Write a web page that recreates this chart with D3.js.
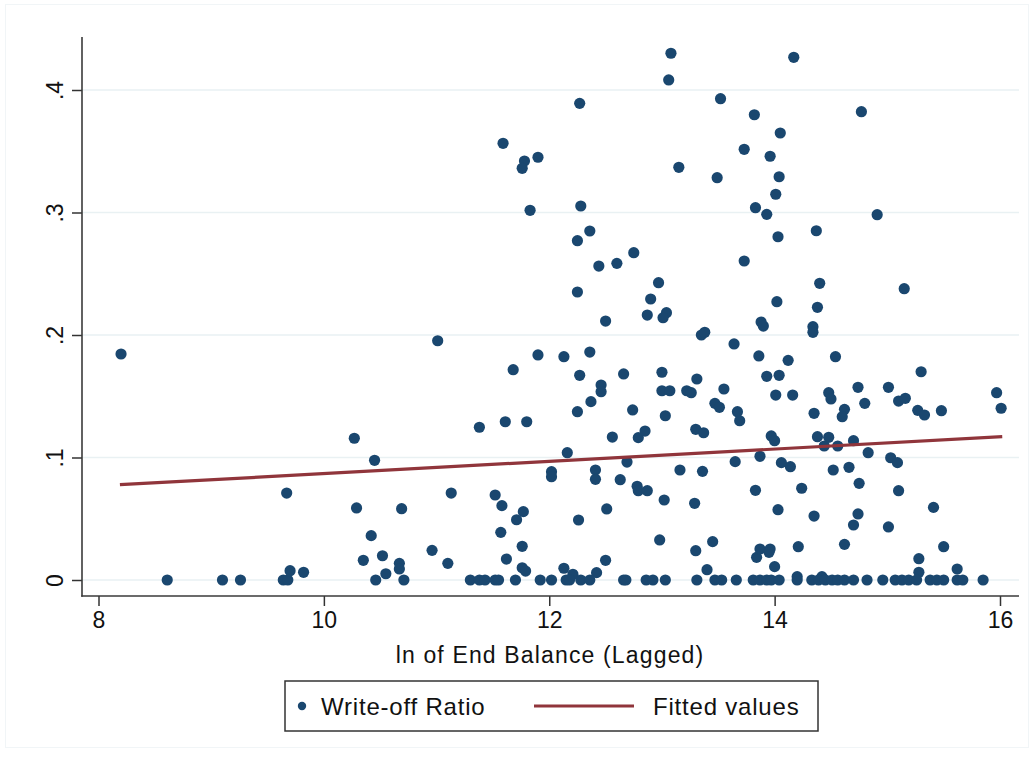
<!DOCTYPE html>
<html>
<head>
<meta charset="utf-8">
<script src="https://cdn.jsdelivr.net/npm/d3@7"></script>
<style>
  body { margin: 0; background: #fff; }
  #chart { width: 1034px; height: 758px; }
  text { font-family: "Liberation Sans", Arial, Helvetica, sans-serif; fill: #111; }
</style>
</head>
<body>
<div id="chart"></div>
<script>
// ln of end balance (lagged) for each observation
const lnBalance = [
  8.20, 9.67, 8.61, 9.10, 9.26, 9.64, 9.68, 9.70, 9.82,
  11.01, 11.90, 11.68, 11.38, 11.61, 11.80, 10.27, 10.45, 12.02, 12.02,
  11.13, 10.29, 10.69, 11.52, 11.58, 11.77, 11.71, 10.42, 11.57, 11.76,
  10.96, 10.35, 10.52, 10.67, 10.67, 11.10, 11.62, 11.76, 11.79, 10.55,
  10.46, 10.71, 11.30, 11.38, 11.43, 11.52, 11.55, 11.70, 11.92, 12.02,
  11.59, 11.78, 11.76, 11.90, 11.83,
  13.08, 13.06, 12.27, 13.52, 13.82, 14.05, 13.73, 13.96, 13.15, 13.49,
  14.04, 14.01, 12.28, 13.83, 13.93, 12.36, 12.25, 14.03, 12.75, 12.44,
  12.60, 13.73, 12.97, 12.25, 12.90, 14.02, 12.87, 13.04, 13.01, 12.50,
  13.88, 13.90,
  14.17, 14.77, 14.91, 14.37, 14.40, 15.15, 14.38,
  13.35, 13.38, 13.64, 12.13, 12.36, 13.86, 14.12, 12.27, 12.66, 13.00,
  13.93, 14.04, 12.46, 12.46, 13.00, 13.07, 13.22, 13.26, 13.31, 13.55,
  14.01, 12.37, 12.25, 12.74, 13.03, 13.47, 13.51, 13.67, 13.69, 12.56,
  12.79, 12.85, 13.30, 13.37, 13.97, 14.00, 12.16, 12.69, 13.65, 13.87,
  14.06, 12.41, 12.41, 13.16, 13.36, 12.63, 12.78, 12.79, 12.87, 13.02,
  13.29, 13.83, 12.51, 14.03, 12.26, 12.98, 13.45, 13.30, 13.84, 13.87,
  13.96, 13.95, 14.00, 12.50, 12.13, 12.21, 12.42, 13.40,
  12.15, 12.18, 12.28, 12.36, 12.66, 12.68, 12.86, 12.92, 13.03, 13.31,
  13.47, 13.53, 13.66, 13.81, 13.87, 13.93, 13.97, 14.04,
  14.34, 14.34, 14.54, 15.30, 14.16, 14.48, 14.50, 14.74, 15.01, 15.10,
  15.16, 14.80, 15.27, 15.33, 15.48, 15.97, 16.01, 14.35, 14.62, 14.60,
  14.38, 14.48, 14.44, 14.56, 14.70, 14.83, 15.03, 15.09, 14.14, 14.52,
  14.66, 14.75, 15.10, 14.24, 14.35, 14.74, 14.70, 15.01, 15.41, 14.21,
  14.62, 15.50, 15.28, 15.28, 15.62, 14.20, 14.20, 14.42,
  14.33, 14.39, 14.45, 14.51, 14.56, 14.62, 14.70, 14.82, 14.96, 15.07,
  15.13, 15.19, 15.26, 15.38, 15.44, 15.50, 15.62, 15.67, 15.85
];

// write-off ratio, same order as lnBalance
const writeOff = [
  .1845, .071, 0, 0, 0, 0, 0, .0076, .0063,
  .1953, .1837, .1717, .1247, .1292, .1292, .1157, .0977, .0884, .0843,
  .0710, .0588, .0582, .0694, .0607, .0558, .0492, .0362, .0389, .0275,
  .0242, .0161, .0198, .0136, .0090, .0136, .0171, .0100, .0073, .0051,
  0, 0, 0, 0, 0, 0, 0, 0, 0, 0,
  .3565, .3420, .3361, .3451, .3018,
  .4300, .4082, .3891, .3929, .3798, .3649, .3516, .3459, .3369, .3284,
  .3292, .3149, .3053, .3039, .2985, .2849, .2770, .2802, .2672, .2563,
  .2585, .2604, .2427, .2351, .2294, .2272, .2163, .2182, .2141, .2114,
  .2106, .2073,
  .4267, .3823, .2982, .2851, .2422, .2378, .2226,
  .2000, .2022, .1927, .1823, .1861, .1829, .1793, .1671, .1682, .1696,
  .1663, .1671, .1592, .1537, .1545, .1545, .1545, .1529, .1641, .1559,
  .1510, .1456, .1374, .1388, .1341, .1442, .1410, .1374, .1300, .1167,
  .1162, .1216, .1230, .1202, .1176, .1137, .1039, .0963, .0966, .1010,
  .0958, .0898, .0822, .0898, .0887, .0819, .0765, .0729, .0729, .0653,
  .0626, .0732, .0580, .0574, .0490, .0327, .0313, .0239, .0185, .0253,
  .0253, .0226, .0109, .0161, .0096, .0047, .0060, .0084,
  0, 0, 0, 0, 0, 0, 0, 0, 0, 0,
  0, 0, 0, 0, 0, 0, 0, 0,
  .2068, .2022, .1823, .1700, .1510, .1529, .1478, .1573, .1573, .1461,
  .1483, .1442, .1385, .1347, .1382, .1529, .1402, .1361, .1393, .1333,
  .1170, .1165, .1094, .1094, .1137, .1039, .0998, .0958, .0925, .0898,
  .0920, .0789, .0729, .0749, .0522, .0539, .0449, .0433, .0593, .0272,
  .0291, .0272, .0174, .0063, .0090, .0027, 0, .0027,
  0, 0, 0, 0, 0, 0, 0, 0, 0, 0,
  0, 0, 0, 0, 0, 0, 0, 0, 0
];

// fitted values line (linear fit), its two ends
const fitX = [8.19, 16.02];
const fitY = [0.0778, 0.117];

const xTicks = [8, 10, 12, 14, 16];
const yTicks = [0, 0.1, 0.2, 0.3, 0.4];
const yTickLabels = ['0', '.1', '.2', '.3', '.4'];

const width = 1034, height = 758;
const plotLeft = 82, plotRight = 1019, plotTop = 37, plotBottom = 596;

const svg = d3.select('#chart')
  .append('svg')
  .attr('width', width)
  .attr('height', height);

// faint outer frame of the graph region
svg.append('rect')
  .attr('x', 5.5).attr('y', 4.5)
  .attr('width', 1023).attr('height', 743)
  .attr('fill', 'none')
  .attr('stroke', '#f1f5f7')
  .attr('stroke-width', 1);

const x = d3.scaleLinear().domain([8, 16]).range([98.5, 1000]);
const y = d3.scaleLinear().domain([0, 0.4]).range([580, 90]);

// horizontal gridlines
svg.append('g')
  .selectAll('line')
  .data(yTicks)
  .join('line')
  .attr('x1', plotLeft)
  .attr('x2', plotRight)
  .attr('y1', d => y(d))
  .attr('y2', d => y(d))
  .attr('stroke', '#e9f1f3')
  .attr('stroke-width', 1.5);

// points
svg.append('g')
  .selectAll('circle')
  .data(lnBalance.map((v, i) => [v, writeOff[i]]))
  .join('circle')
  .attr('cx', d => x(d[0]))
  .attr('cy', d => y(d[1]))
  .attr('r', 5.6)
  .attr('fill', '#1a476f');

// fitted line
svg.append('path')
  .datum(fitX.map((v, i) => [v, fitY[i]]))
  .attr('d', d3.line().x(d => x(d[0])).y(d => y(d[1])))
  .attr('fill', 'none')
  .attr('stroke', '#90353b')
  .attr('stroke-width', 3.2);

// X axis
const xAxis = svg.append('g')
  .attr('transform', `translate(0, ${plotBottom})`)
  .call(d3.axisBottom(x).tickValues(xTicks).tickSize(10).tickPadding(6).tickFormat(d3.format('d')));
xAxis.select('.domain').remove();
xAxis.selectAll('.tick line').attr('stroke', '#333').attr('stroke-width', 1.5);
xAxis.selectAll('.tick text')
  .attr('font-size', 23)
  .attr('font-family', '"Liberation Sans", Arial, sans-serif')
  .attr('fill', '#111');

svg.append('line')
  .attr('x1', plotLeft - 0.75).attr('x2', plotRight)
  .attr('y1', plotBottom).attr('y2', plotBottom)
  .attr('stroke', '#3a3a3a').attr('stroke-width', 1.6);

// Y axis
const yAxis = svg.append('g')
  .attr('transform', `translate(${plotLeft}, 0)`)
  .call(d3.axisLeft(y).tickValues(yTicks).tickSize(10).tickFormat((d, i) => yTickLabels[i]));
yAxis.select('.domain').remove();
yAxis.selectAll('.tick line').attr('stroke', '#333').attr('stroke-width', 1.5);
yAxis.selectAll('.tick text')
  .attr('font-size', 23)
  .attr('font-family', '"Liberation Sans", Arial, sans-serif')
  .attr('fill', '#111')
  .attr('text-anchor', 'middle')
  .attr('dy', null)
  .attr('x', null)
  .attr('transform', 'translate(-19, 0) rotate(-90)');

svg.append('line')
  .attr('x1', plotLeft).attr('x2', plotLeft)
  .attr('y1', plotTop).attr('y2', plotBottom + 0.75)
  .attr('stroke', '#3a3a3a').attr('stroke-width', 1.6);

// X axis title
svg.append('text')
  .attr('x', 550)
  .attr('y', 663)
  .attr('text-anchor', 'middle')
  .attr('font-size', 23)
  .attr('letter-spacing', 1.15)
  .text('ln of End Balance (Lagged)');

// legend
const legend = svg.append('g');
legend.append('rect')
  .attr('x', 285).attr('y', 681)
  .attr('width', 533).attr('height', 50)
  .attr('fill', '#fff')
  .attr('stroke', '#333')
  .attr('stroke-width', 1.5);
legend.append('circle')
  .attr('cx', 302).attr('cy', 706)
  .attr('r', 4.2)
  .attr('fill', '#1a476f');
legend.append('text')
  .attr('x', 321).attr('y', 715)
  .attr('font-size', 24)
  .attr('letter-spacing', 0.8)
  .text('Write-off Ratio');
legend.append('line')
  .attr('x1', 534).attr('x2', 634)
  .attr('y1', 706).attr('y2', 706)
  .attr('stroke', '#90353b')
  .attr('stroke-width', 3);
legend.append('text')
  .attr('x', 653).attr('y', 715)
  .attr('font-size', 24)
  .attr('letter-spacing', 0.8)
  .text('Fitted values');
</script>
</body>
</html>
